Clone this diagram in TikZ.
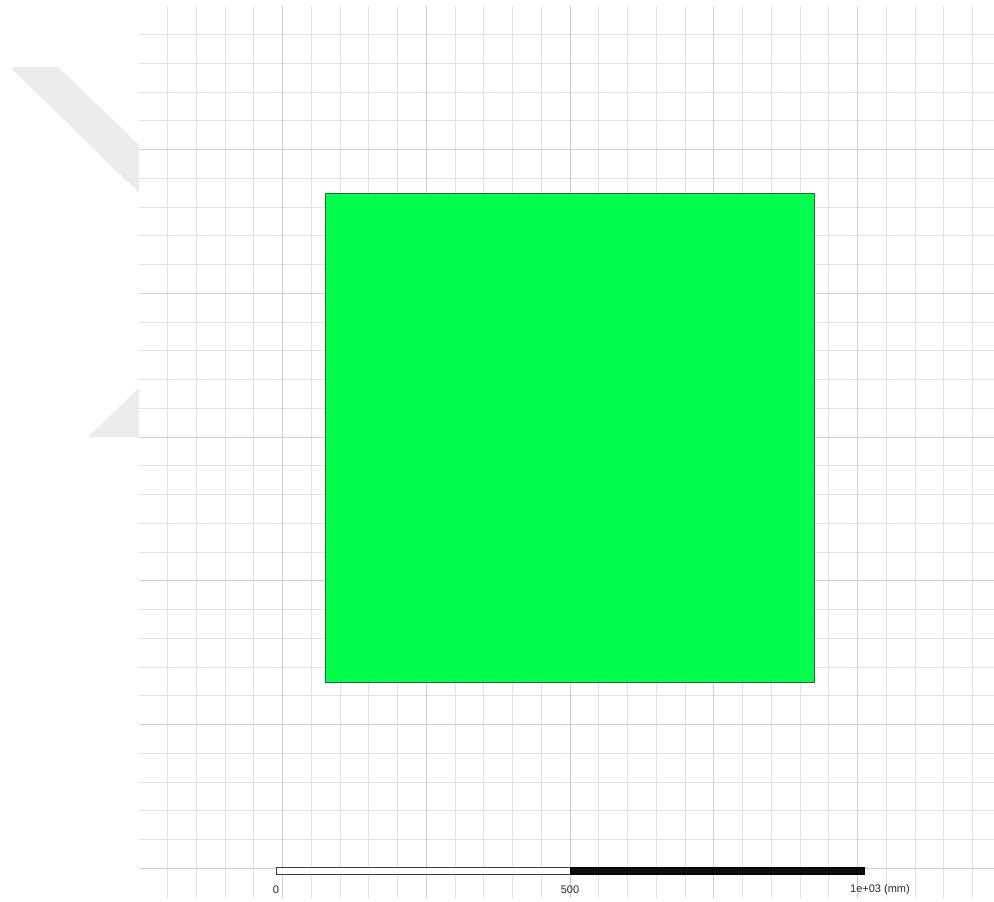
\documentclass[tikz,border=0pt]{standalone}
\usepackage{fontspec}
\setmainfont{Liberation Sans}
\definecolor{wmgray}{RGB}{236,236,236}
\definecolor{gridminor}{RGB}{224,224,234}
\definecolor{gridmajor}{RGB}{206,206,218}
\definecolor{axisv}{RGB}{196,208,200}
\definecolor{axish}{RGB}{226,196,204}
\definecolor{platefill}{RGB}{0,255,76}
\definecolor{plateedge}{RGB}{30,110,55}
\definecolor{labelgray}{RGB}{40,40,40}
\begin{document}
\begin{tikzpicture}[x=1pt,y=-1pt,
  wm/.style={fill=wmgray},
  minorline/.style={draw=gridminor,line width=0.9pt},
  majorline/.style={draw=gridmajor,line width=1pt},
  plate/.style={draw=plateedge,fill=platefill,line width=0.8pt,inner sep=0pt,outer sep=0pt,anchor=north west,minimum width=489pt,minimum height=489pt},
  barwhite/.style={draw=labelgray!90,fill=white,line width=0.8pt,inner sep=0pt,anchor=north west,minimum width=294pt,minimum height=7pt},
  barblack/.style={draw=black,fill=black!95,line width=0.8pt,inner sep=0pt,anchor=north west,minimum width=294pt,minimum height=7pt},
  scalelabel/.style={text=labelgray,font=\fontsize{11}{13}\selectfont,inner sep=0pt}]
\useasboundingbox (0,0) rectangle (994,902);
\fill[white] (0,0) rectangle (994,902);
% watermark behind grid panel
\fill[wm] (10,67) -- (58,67) -- (139,145) -- (139,193) -- cycle;
\fill[wm] (88,437) -- (139,437) -- (139,388) -- cycle;
% grid panel
\fill[white] (139,6) rectangle (994,898);
\foreach \i in {-14,...,14} {
  \draw[minorline] ({570+\i*28.75},6) -- ({570+\i*28.75},898);
}
\foreach \j in {-14,...,15} {
  \draw[minorline] (139,{437+\j*28.75}) -- (994,{437+\j*28.75});
}
\foreach \i in {-10,-5,5,10} {
  \draw[majorline] ({570+\i*28.75},6) -- ({570+\i*28.75},898);
}
\foreach \j in {-10,-5,5,10,15} {
  \draw[majorline] (139,{437+\j*28.75}) -- (994,{437+\j*28.75});
}
\draw[axisv,line width=1pt] (570,6) -- (570,898);
\draw[axish,line width=1pt] (139,437) -- (994,437);
% plate
\node[plate] (plate) at (325,193) {};
% scale bar
\node[barwhite] (barA) at (276,867) {};
\node[barblack] (barB) at (570,867) {};
\node[scalelabel] (l0) at (276,889.5) {0};
\node[scalelabel] (l500) at (570,889.5) {500};
\node[scalelabel,anchor=west] (l1000) at (850,889.5) {1e+03 (mm)};
\end{tikzpicture}
\end{document}
